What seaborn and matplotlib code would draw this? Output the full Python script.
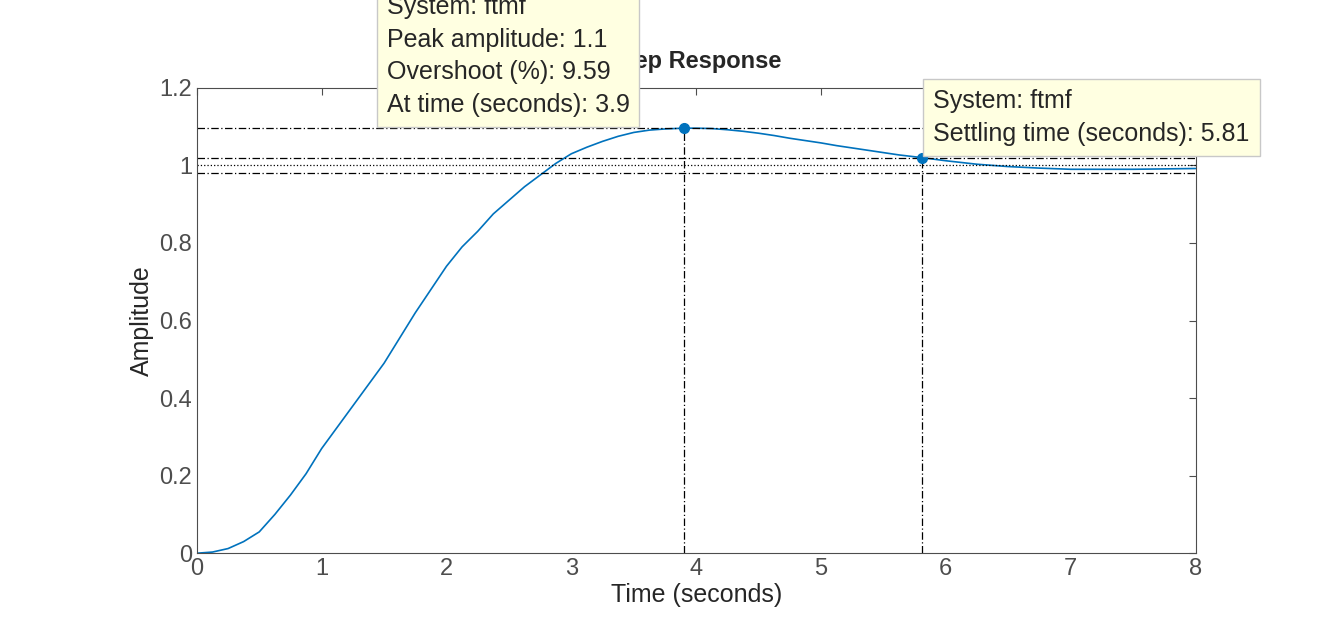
import matplotlib
matplotlib.use("Agg")
import matplotlib.pyplot as plt
import seaborn as sns
import pandas as pd

t = [0, .125, .25, .375, .5, .625, .75, .875, 1, 1.125, 1.25, 1.375, 1.5, 1.625, 1.75, 1.875,
     2, 2.125, 2.25, 2.375, 2.5, 2.625, 2.75, 2.875, 3, 3.125, 3.25, 3.375, 3.5, 3.625, 3.75, 3.9,
     4.0, 4.125, 4.25, 4.375, 4.5, 4.625, 4.75, 4.875, 5, 5.125, 5.25, 5.375, 5.5, 5.625, 5.81,
     6, 6.25, 6.5, 6.75, 7, 7.5, 8]
amp = [0, .003, .012, .03, .055, .1, .15, .205, .27, .325, .38, .435, .49, .555, .62, .68,
       .74, .79, .83, .875, .91, .945, .975, 1.005, 1.03, 1.047, 1.062, 1.075, 1.085, 1.091, 1.094, 1.096,
       1.096, 1.095, 1.092, 1.088, 1.083, 1.077, 1.07, 1.064, 1.058, 1.051, 1.045, 1.039, 1.033, 1.027, 1.02,
       1.012, 1.003, .997, .993, .99, .99, .992]
peak_t, peak_y = 3.9, 1.096
settle_t, settle_y = 5.81, 1.02
final = 1.0
xticks = list(range(0, 9))
yticks = [0, 0.2, 0.4, 0.6, 0.8, 1, 1.2]

sns.set_style("white")
plt.rcParams['font.family'] = ['Liberation Sans', 'DejaVu Sans']
fig = plt.figure(figsize=(13.21, 6.23), dpi=100)
ax = fig.add_axes([0.149, 0.112, 0.756, 0.747])
blue = "#0072BD"
df = pd.DataFrame({"t": t, "a": amp})
sns.lineplot(data=df, x="t", y="a", ax=ax, color=blue, lw=1.2)
dd = dict(color="black", lw=0.9, ls=(0, (6, 2, 1, 2)))
ax.axhline(peak_y, **dd)
ax.axhline(final * 1.02, **dd)
ax.axhline(final * 0.98, **dd)
ax.axhline(final, color="black", lw=0.9, ls=":")
ax.plot([peak_t, peak_t], [0, peak_y], **dd)
ax.plot([settle_t, settle_t], [0, settle_y], **dd)
ax.plot([peak_t, settle_t], [peak_y, settle_y], "o", color=blue, ms=7, ls="none")
ax.set_xlim(0, 8); ax.set_ylim(0, 1.2)
ax.set_xticks(xticks); ax.set_yticks(yticks)
ax.set_yticklabels(["0", "0.2", "0.4", "0.6", "0.8", "1", "1.2"])
ax.tick_params(labelsize=17, colors="#4d4d4d", direction="in", top=True, right=True, length=5)
for s in ax.spines.values():
    s.set_color("#4d4d4d")
ax.set_xlabel("Time (seconds)", fontsize=18, labelpad=2)
ax.set_ylabel("Amplitude", fontsize=18, labelpad=4)
ax.set_title("Step Response", fontsize=17, fontweight="bold", pad=14)
box = dict(boxstyle="square,pad=0.4", fc="#FFFFE1", ec="#c8c8c8")
ax.text(1.52, 1.125, "System: ftmf\nPeak amplitude: 1.1\nOvershoot (%): 9.59\nAt time (seconds): 3.9",
        fontsize=18, va="bottom", ha="left", bbox=box, linespacing=1.45, zorder=5, clip_on=False)
ax.text(5.9, 1.05, "System: ftmf\nSettling time (seconds): 5.81",
        fontsize=18, va="bottom", ha="left", bbox=box, linespacing=1.45, zorder=5, clip_on=False)
fig.savefig("out.png", dpi=100)
